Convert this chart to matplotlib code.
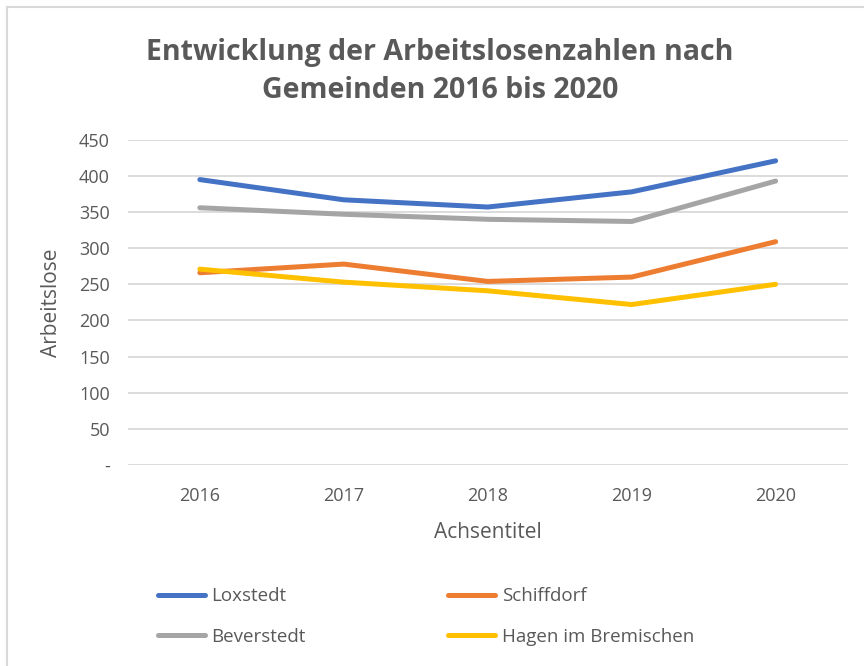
import matplotlib.pyplot as plt
from matplotlib.lines import Line2D

years = ["2016", "2017", "2018", "2019", "2020"]
loxstedt = [395, 367, 357, 378, 421]
schiffdorf = [266, 278, 254, 260, 309]
beverstedt = [356, 347, 340, 337, 393]
hagen = [271, 253, 241, 222, 250]

yticks = [0, 50, 100, 150, 200, 250, 300, 350, 400, 450]
ytick_labels = ["-", "50", "100", "150", "200", "250", "300", "350", "400", "450"]

TXT = "#595959"
plt.rcParams["font.family"] = ["Open Sans", "DejaVu Sans"]

fig = plt.figure(figsize=(8.64, 6.66), dpi=100)
ax = fig.add_axes([0.148, 0.302, 0.833, 0.488])

x = range(len(years))
series = [
    ("Loxstedt", loxstedt, "#4472C4"),
    ("Schiffdorf", schiffdorf, "#ED7D31"),
    ("Beverstedt", beverstedt, "#A5A5A5"),
    ("Hagen im Bremischen", hagen, "#FFC000"),
]
handles = {}
for name, vals, col in series:
    h, = ax.plot(x, vals, color=col, linewidth=3.6, solid_capstyle="round",
                 solid_joinstyle="round", label=name)
    handles[name] = h

ax.set_xlim(-0.5, len(years) - 0.5)
ax.set_ylim(0, 450)
ax.set_yticks(yticks)
ax.set_yticklabels(ytick_labels)
ax.set_xticks(list(x))
ax.set_xticklabels(years)
ax.tick_params(axis="y", length=0, pad=13, labelsize=13, labelcolor=TXT)
ax.tick_params(axis="x", length=0, pad=16, labelsize=13, labelcolor=TXT)
for s in ax.spines.values():
    s.set_visible(False)
ax.grid(axis="y", color="#D9D9D9", linewidth=1.3)
ax.set_axisbelow(True)
ax.set_ylabel("Arbeitslose", fontsize=15, color=TXT, labelpad=12)
ax.set_xlabel("Achsentitel", fontsize=15, color=TXT, labelpad=12)

fig.text(0.509, 0.893, "Entwicklung der Arbeitslosenzahlen nach\nGemeinden 2016 bis 2020",
         ha="center", va="center", fontsize=20.5, fontweight="bold", color=TXT,
         linespacing=1.4)

order = ["Loxstedt", "Beverstedt", "Schiffdorf", "Hagen im Bremischen"]
leg = fig.legend([handles[n] for n in order], order, ncol=2, loc="upper left",
                 bbox_to_anchor=(0.183, 0.118), frameon=False, fontsize=13.5,
                 handlelength=2.5, handletextpad=0.35, columnspacing=7.6,
                 labelspacing=1.2, borderpad=0, borderaxespad=0)
for t in leg.get_texts():
    t.set_color(TXT)

# chart frame (only top and left edges visible in the crop)
fig.add_artist(Line2D([7 / 864, 1], [1 - 7 / 666, 1 - 7 / 666], color="#D9D9D9",
                      linewidth=1.5, transform=fig.transFigure))
fig.add_artist(Line2D([7 / 864, 7 / 864], [0, 1 - 7 / 666], color="#D9D9D9",
                      linewidth=1.5, transform=fig.transFigure))

fig.savefig("out.png", dpi=100)
